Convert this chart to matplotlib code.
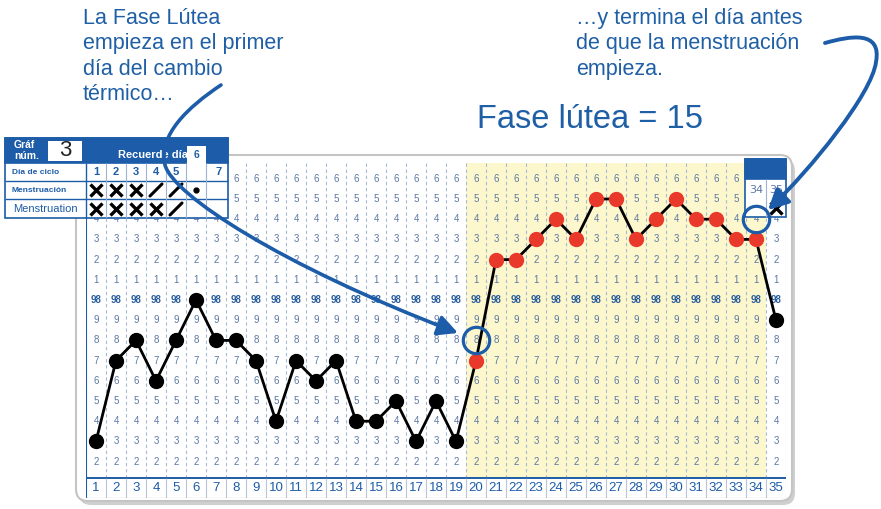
import numpy as np
import matplotlib.pyplot as plt
from matplotlib.patches import Rectangle, FancyBboxPatch, FancyArrowPatch
from matplotlib.path import Path

W, H = 881, 509
BLUE = '#1c5ca8'
TXT_BLUE = '#1f5fa5'
DIGIT = '#5b78a6'
SANS = ['Liberation Sans', 'DejaVu Sans']
NARROW = ['Liberation Sans Narrow', 'Liberation Sans', 'DejaVu Sans']

# chart data (basal temperature, deg F)
days = list(range(1, 36))
temps = [97.3, 97.7, 97.8, 97.6, 97.8, 98.0, 97.8, 97.8, 97.7, 97.4,
         97.7, 97.6, 97.7, 97.4, 97.4, 97.5, 97.3, 97.5, 97.3, 97.7,
         98.2, 98.2, 98.3, 98.4, 98.3, 98.5, 98.5, 98.3, 98.4, 98.5,
         98.4, 98.4, 98.3, 98.3, 97.9]
luteal_start, luteal_end = 20, 34
row_temps = [98.6, 98.5, 98.4, 98.3, 98.2, 98.1, 98.0,
             97.9, 97.8, 97.7, 97.6, 97.5, 97.4, 97.3, 97.2]
highlights = [(20, 97.8), (34, 98.4)]

# header table
header_days = ['1', '2', '3', '4', '5', '', '7']
mens_es = ['x', 'x', 'x', '/', '/', '.']
mens_en = ['x', 'x', 'x', 'x', '/']
chart_num = '3'
remember_day = '6'


def px2t(p):
    # pixel row -> temperature (98.0 sits at row 300, 20.2 px per 0.1)
    return 98.0 + (300 - p) / 202.0


fig = plt.figure(figsize=(W / 100, H / 100), dpi=100)

# background: rounded white board with shadow
bg = fig.add_axes([0, 0, 1, 1], zorder=0)
bg.set_xlim(0, W)
bg.set_ylim(H, 0)
bg.axis('off')
bg.add_patch(FancyBboxPatch((79, 159), 716, 346, boxstyle='round,pad=0,rounding_size=12',
                            fc='#cfcfcf', ec='none'))
bg.add_patch(FancyBboxPatch((76, 155), 716, 346, boxstyle='round,pad=0,rounding_size=12',
                            fc='white', ec='#c4c4c4', lw=1.5))

# main chart axes
ax = fig.add_axes([86 / W, (H - 498) / H, 700 / W, (498 - 157) / H], zorder=1)
ax.set_xlim(0.5, 35.5)
ax.set_ylim(px2t(498), px2t(157))
ax.axis('off')

ax.fill_between([luteal_start - 0.5, luteal_end + 0.5], px2t(478), px2t(163),
                color='#fcf7cc', lw=0, zorder=0)
ax.vlines(np.arange(1.5, 36, 1), px2t(478), px2t(163), colors='#a8bad3',
          linestyles=(0, (3, 2.5)), lw=0.8, zorder=1)
ax.vlines(0.5, px2t(498), px2t(200), colors=BLUE, lw=1.5, zorder=2)
ax.hlines(px2t(478), 0.5, 35.5, colors=BLUE, lw=1.4, zorder=2)
ax.hlines(px2t(498), 0.5, 35.5, colors='#c7d2e0', lw=1, zorder=2)
ax.vlines(np.arange(1.5, 36, 1), px2t(498), px2t(478), colors='#b7c6da', lw=0.8, zorder=2)

for d in days:
    ax.text(d, px2t(488), str(d), ha='center', va='center', fontsize=9.5,
            color=BLUE, family=SANS)
    for t in row_temps:
        # top two rows are hidden under the header table and the 34/35 box
        if t > 98.45 and (d <= 7 or d >= 34):
            continue
        if abs(t - 98.0) < 1e-6:
            ax.text(d, t, '98', ha='center', va='center', fontsize=7,
                    color='#2b5e9e', fontweight='bold', family=NARROW, zorder=3)
        else:
            ax.text(d, t, str(int(round(t * 10)) % 10), ha='center', va='center',
                    fontsize=7, color=DIGIT, family=SANS, zorder=3)

ax.plot(days, temps, color='black', lw=2, zorder=6)
is_lut = [luteal_start <= d <= luteal_end for d in days]
ax.plot([d for d, f in zip(days, is_lut) if not f], [t for t, f in zip(temps, is_lut) if not f],
        'o', color='black', ms=10, zorder=7)
ax.plot([d for d, f in zip(days, is_lut) if f], [t for t, f in zip(temps, is_lut) if f],
        'o', color='#e8392b', ms=10, zorder=7)

# days 34/35 box top right
ax.add_patch(Rectangle((33.45, px2t(217)), 2.05, px2t(159) - px2t(217), fc='white',
                       ec=BLUE, lw=1.2, zorder=5, clip_on=False))
ax.add_patch(Rectangle((33.45, px2t(179)), 2.05, px2t(159) - px2t(179), fc=BLUE,
                       ec=BLUE, lw=1.2, zorder=5, clip_on=False))
ax.vlines(34.5, px2t(217), px2t(179), colors='#9db3d4', lw=0.8, zorder=5)
ax.text(34, px2t(190), '34', ha='center', va='center', fontsize=8, color=DIGIT, zorder=6)
ax.text(35, px2t(190), '35', ha='center', va='center', fontsize=8, color=DIGIT, zorder=6)
ax.plot(35, px2t(208), 'x', color='black', ms=9, mew=2.4, zorder=6)

for d, t in highlights:
    ax.plot(d, t, 'o', ms=19, mfc='none', mec=BLUE, mew=2.3, zorder=8)

# foreground: header table, captions and arrows (pixel coordinates)
fg = fig.add_axes([0, 0, 1, 1], zorder=3)
fg.set_xlim(0, W)
fg.set_ylim(H, 0)
fg.axis('off')
fg.patch.set_alpha(0)

fg.add_patch(Rectangle((5, 138), 223, 80, fc='white', ec=BLUE, lw=1.2))
fg.add_patch(Rectangle((5, 138), 223, 25, fc=BLUE, ec=BLUE, lw=1.2))
fg.add_patch(Rectangle((48, 141), 34, 20, fc='white', ec='none'))
fg.add_patch(Rectangle((187, 146), 19, 18, fc='white', ec='none'))
fg.text(65, 151, chart_num, ha='center', va='center', fontsize=16, color='#222222', family=SANS)
fg.text(14, 145, 'Gráf', ha='left', va='center', fontsize=7.5, color='white',
        fontweight='bold', family=NARROW)
fg.text(14, 156, 'núm.', ha='left', va='center', fontsize=7.5, color='white',
        fontweight='bold', family=NARROW)
fg.text(118, 155, 'Recuerde día:', ha='left', va='center', fontsize=8, color='white',
        fontweight='bold', family=NARROW)
fg.text(196, 155, remember_day, ha='center', va='center', fontsize=7.5, color=BLUE,
        fontweight='bold', family=SANS)
fg.hlines([181, 199], 5, 228, colors=BLUE, lw=1)
fg.vlines(86, 163, 218, colors=BLUE, lw=1)
fg.vlines(np.arange(106, 220, 20), 163, 218, colors='#9db3d4', lw=0.8)
fg.text(12, 172, 'Día de ciclo', ha='left', va='center', fontsize=6, color=BLUE,
        fontweight='bold', family=NARROW)
fg.text(12, 190, 'Menstruación', ha='left', va='center', fontsize=6, color=BLUE,
        fontweight='bold', family=NARROW)
fg.text(13, 209, 'Menstruation', ha='left', va='center', fontsize=8, color=BLUE, family=SANS)

for k, lbl in enumerate(header_days):
    cx = 96 + 20 * k if k < 6 else 219
    fg.text(cx, 172, lbl, ha='center', va='center', fontsize=8, color=BLUE,
            fontweight='bold', family=SANS)


def mark(cx, cy, kind):
    if kind == 'x':
        fg.plot(cx, cy, 'x', color='black', ms=9, mew=2.4)
    elif kind == '/':
        fg.plot([cx - 6, cx + 6], [cy + 6, cy - 6], color='black', lw=2.2,
                solid_capstyle='round')
    else:
        fg.plot(cx, cy, 'o', color='black', ms=3.5)


for k, m in enumerate(mens_es):
    mark(96 + 20 * k, 190, m)
for k, m in enumerate(mens_en):
    mark(96 + 20 * k, 209, m)

fg.text(83, 8, 'La Fase Lútea\nempieza en el primer\ndía del cambio\ntérmico…',
        ha='left', va='top', fontsize=15.5, color=TXT_BLUE, linespacing=1.27, family=SANS)
fg.text(576, 8, '…y termina el día antes\nde que la menstruación\nempieza.',
        ha='left', va='top', fontsize=15.5, color=TXT_BLUE, linespacing=1.27, family=SANS)
fg.text(477, 128, 'Fase lútea = 15', ha='left', va='baseline', fontsize=23.5,
        color=TXT_BLUE, family=SANS)

C = Path.CURVE4
left_path = Path([(221, 85), (188, 107), (158, 135), (165, 165),
                  (173, 195), (280, 265), (458, 333)],
                 [Path.MOVETO, C, C, C, C, C, C])
right_path = Path([(825, 43), (850, 36), (882, 30), (876, 62),
                   (872, 94), (810, 170), (768, 210)],
                  [Path.MOVETO, C, C, C, C, C, C])
for p, lw in [(left_path, 2.6), (right_path, 2.8)]:
    fg.add_patch(FancyArrowPatch(path=p, arrowstyle='-|>,head_length=0.55,head_width=0.28',
                                 mutation_scale=22, lw=lw, color=BLUE, zorder=10))

fig.savefig('out.png', dpi=100)
